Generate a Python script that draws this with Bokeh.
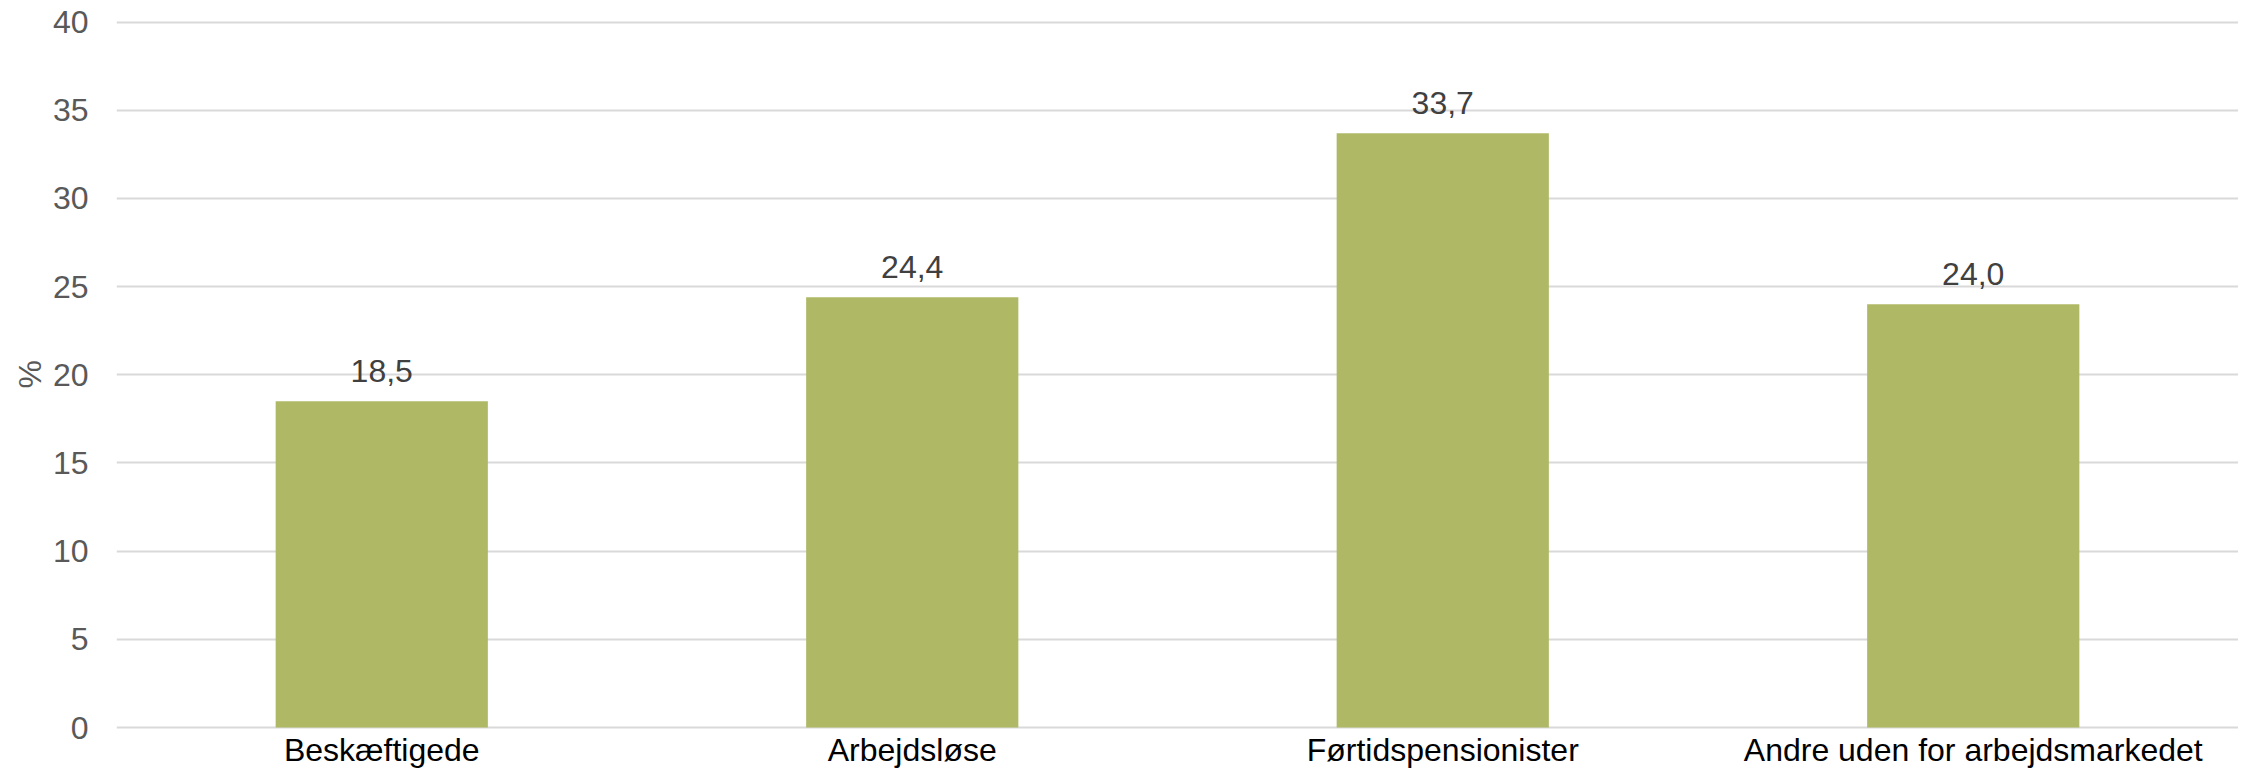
from bokeh.plotting import figure
from bokeh.models import ColumnDataSource, FixedTicker, Range1d, Title
from bokeh.embed import file_html
from bokeh.resources import INLINE
from bokeh.core.properties import value

categories = ["Beskæftigede", "Arbejdsløse", "Førtidspensionister", "Andre uden for arbejdsmarkedet"]
values = [18.5, 24.4, 33.7, 24.0]
labels = ["18,5", "24,4", "33,7", "24,0"]
y_ticks = [0, 5, 10, 15, 20, 25, 30, 35, 40]

FONT = "Liberation Sans"
FS = "32px"

src = ColumnDataSource(data=dict(cat=categories, val=values, lab=labels, zero=[0] * len(categories)))

# frame extends below zero so that the category names can be drawn inside it
p = figure(x_range=categories, y_range=Range1d(-2.32, 40.2),
           frame_width=2122, frame_height=750,
           x_axis_location=None,
           output_backend="svg", toolbar_location=None,
           min_border_left=116, min_border_right=0, min_border_top=18, min_border_bottom=0)

p.vbar(x="cat", top="val", width=0.4, source=src, color="#AFB865", line_color=None)
p.text(x="cat", y="val", text="lab", source=src, text_align="center", text_baseline="alphabetic",
       y_offset=-30, text_font=value(FONT), text_font_size=FS, text_color="#404040")
p.text(x="cat", y="zero", text="cat", source=src, text_align="center", text_baseline="alphabetic",
       y_offset=22, text_font=value(FONT), text_font_size=FS, text_color="#000000")

p.outline_line_color = None
p.xgrid.grid_line_color = None
p.ygrid.grid_line_color = "#D9D9D9"
p.ygrid.grid_line_width = 2
p.yaxis.ticker = FixedTicker(ticks=y_ticks)

ax = p.yaxis
ax.axis_line_color = None
ax.major_tick_line_color = None
ax.minor_tick_line_color = None
ax.major_tick_out = 0
ax.major_tick_in = 0
ax.major_label_text_font = FONT
ax.major_label_text_font_size = FS
ax.major_label_text_color = "#595959"
ax.major_label_standoff = 28

ytitle = Title(text="%", align="left", offset=380, standoff=4,
               text_font=FONT, text_font_size=FS, text_font_style="normal",
               text_color="#595959")
p.add_layout(ytitle, "left")

open("out.html", "w").write(file_html(p, INLINE))
